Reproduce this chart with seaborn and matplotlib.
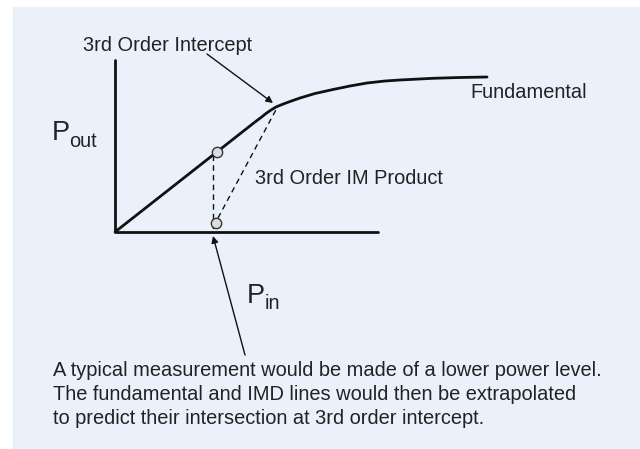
import numpy as np
import pandas as pd
import matplotlib.pyplot as plt
import seaborn as sns
from matplotlib.patches import Rectangle

sns.set_style("white")
plt.rcParams["font.family"] = ["Liberation Sans", "DejaVu Sans"]

# fundamental curve (Pin, Pout), in picture units
fund_pin = [115, 255, 261, 266, 271, 276, 282, 290, 300, 315, 333, 350, 367, 385, 400, 433, 460, 487]
fund_pout = [232, 122, 117.5, 113.5, 110, 107, 104.5, 101.5, 98, 93.5, 89.5, 86, 83, 81, 80, 78.3, 77.5, 77]

# measured points (fundamental, IM product)
meas_pin = [217, 216]
meas_pout = [152, 223]

# 3rd order IM extrapolation
im_pin = [218, 278]
im_pout = [218, 106]

# axes of the sketch
axis_x = [115, 115, 378]
axis_y = [60, 232, 232]

note_lines = [
    "A typical measurement would be made of a lower power level.",
    "The fundamental and IMD lines would then be extrapolated",
    "to predict their intersection at 3rd order intercept.",
]

fig = plt.figure(figsize=(6.4, 4.49), dpi=100)
ax = fig.add_axes([0, 0, 1, 1])
ax.set_xlim(0, 640)
ax.set_ylim(449, 0)
ax.axis("off")

ax.add_patch(Rectangle((13, 7), 640, 449, color="#ebf1fb", zorder=0))

ink = "#111111"
sns.lineplot(x=axis_x, y=axis_y, sort=False, estimator=None, ax=ax, color=ink, lw=2)
sns.lineplot(x=fund_pin, y=fund_pout, sort=False, estimator=None, ax=ax, color=ink, lw=2)
ax.plot([213, 213], [155, 232], color=ink, lw=1, dashes=(4, 3))
sns.lineplot(x=im_pin, y=im_pout, sort=False, estimator=None, ax=ax, color=ink, lw=1,
             dashes=False, linestyle=(0, (4, 3)))
sns.scatterplot(x=meas_pin, y=meas_pout, ax=ax, s=55, color="#dddddd", edgecolor="#333333",
                linewidth=1, zorder=5)

arrow = dict(arrowstyle="-|>", color=ink, lw=1, mutation_scale=10, shrinkA=0, shrinkB=0)
ax.annotate("", xy=(273, 103), xytext=(207, 54), arrowprops=arrow)
ax.annotate("", xy=(213, 236), xytext=(245, 355), arrowprops=arrow)

fs = 14.4
txt = dict(color="#222222", fontsize=fs)
ax.text(83, 51, "3rd Order Intercept", va="baseline", **txt)
ax.text(470, 98, "Fundamental", va="baseline", **txt)
ax.text(255, 184, "3rd Order IM Product", va="baseline", **txt)
ax.text(52, 140, "P", va="baseline", color="#222222", fontsize=19.5)
ax.text(69, 147, "out", va="baseline", **txt)
ax.text(247, 303, "P", va="baseline", color="#222222", fontsize=19.5)
ax.text(265, 309, "in", va="baseline", **txt)
for i, line in enumerate(note_lines):
    ax.text(53, 376 + 24 * i, line, va="baseline", **txt)

fig.savefig("out.png", dpi=100)
